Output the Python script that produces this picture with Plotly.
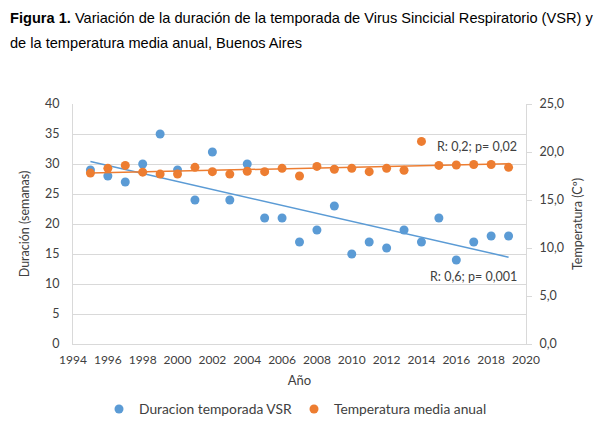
import numpy as np
import plotly.graph_objects as go

years = list(range(1995, 2020))
duracion = [29, 28, 27, 30, 35, 29, 24, 32, 24, 30, 21, 21, 17, 19, 23, 15, 17, 16, 19, 17, 21, 14, 17, 18, 18]
temperatura = [17.8, 18.3, 18.6, 17.9, 17.7, 17.7, 18.4, 17.95, 17.7, 18.0, 17.95, 18.3, 17.5, 18.5, 18.2,
               18.3, 17.95, 18.3, 18.1, 21.1, 18.6, 18.65, 18.7, 18.7, 18.4]
x_ticks = list(range(1994, 2021, 2))

BLUE = "#5B9BD5"
ORANGE = "#ED7D31"
GRID = "#D9D9D9"
FONT = "Lato"
TXT = "#404040"

x = np.array(years, dtype=float)
bd = np.polyfit(x, np.array(duracion, dtype=float), 1)
bt = np.polyfit(x, np.array(temperatura, dtype=float), 1)
xe = [years[0], years[-1]]

fig = go.Figure()
fig.add_trace(go.Scatter(x=years, y=duracion, mode="markers", name="Duracion temporada VSR",
                         marker=dict(color=BLUE, size=9), yaxis="y"))
fig.add_trace(go.Scatter(x=years, y=temperatura, mode="markers", name="Temperatura media anual",
                         marker=dict(color=ORANGE, size=9), yaxis="y2"))
fig.add_trace(go.Scatter(x=xe, y=[np.polyval(bd, v) for v in xe], mode="lines", showlegend=False,
                         line=dict(color=BLUE, width=1.5), yaxis="y", hoverinfo="skip"))
fig.add_trace(go.Scatter(x=xe, y=[np.polyval(bt, v) for v in xe], mode="lines", showlegend=False,
                         line=dict(color=ORANGE, width=1.5), yaxis="y2", hoverinfo="skip"))

fig.update_layout(
    width=600, height=426,
    margin=dict(l=73, r=74, t=104, b=82, autoexpand=False),
    paper_bgcolor="white", plot_bgcolor="white",
    separators=",.",
    font=dict(family=FONT, size=12, color=TXT),
    showlegend=True,
    legend=dict(orientation="h", x=0.49, xanchor="center", xref="container",
                y=1 - 409 / 426, yanchor="middle", yref="container",
                font=dict(family=FONT, size=13.8, color=TXT), itemwidth=30,
                entrywidth=150, entrywidthmode="pixels"),
    xaxis=dict(range=[1994, 2020], tickvals=x_ticks, showgrid=False, showline=True, automargin=False,
               linecolor=GRID, linewidth=1, ticks="", zeroline=False, ticklabelstandoff=5,
               title=dict(text="Año", standoff=9, font=dict(family=FONT, size=13, color=TXT)),
               tickfont=dict(family=FONT, size=12, color=TXT)),
    yaxis=dict(range=[0, 40], dtick=5, showgrid=True, gridcolor=GRID, gridwidth=1, automargin=False,
               showline=True, linecolor=GRID, zeroline=False, ticks="",
               ticklabelstandoff=10,
               title=dict(text="Duración (semanas)", standoff=12, font=dict(family=FONT, size=12.5, color=TXT)),
               tickfont=dict(family=FONT, size=12.5, color=TXT)),
    yaxis2=dict(range=[0, 25], dtick=5, tickformat=".1f", overlaying="y", side="right", automargin=False,
                showgrid=False, showline=True, linecolor=GRID, zeroline=False,
                ticks="outside", ticklen=5, tickcolor=GRID, ticklabelstandoff=5,
                title=dict(text="Temperatura (Cº)", standoff=10, font=dict(family=FONT, size=12.5, color=TXT)),
                tickfont=dict(family=FONT, size=12.5, color=TXT)),
)

fig.add_annotation(x=2019.6, y=20.6, xref="x", yref="y2", text="R: 0,2; p= 0,02", showarrow=False,
                   xanchor="right", yanchor="middle", font=dict(family=FONT, size=12.5, color=TXT))
fig.add_annotation(x=2019.6, y=11.3, xref="x", yref="y", text="R: 0,6; p= 0,001", showarrow=False,
                   xanchor="right", yanchor="middle", font=dict(family=FONT, size=12.5, color=TXT))

TF = "Liberation Sans"
fig.add_annotation(xref="paper", yref="paper", x=(8 - 73) / 453, y=(344 - 18) / 240,
                   xanchor="left", yanchor="middle", showarrow=False,
                   text="<b>Figura 1.</b> Variación de la duración de la temporada de Virus Sincicial Respiratorio (VSR) y",
                   font=dict(family=TF, size=14.6, color="black"))
fig.add_annotation(xref="paper", yref="paper", x=(8 - 73) / 453, y=(344 - 43) / 240,
                   xanchor="left", yanchor="middle", showarrow=False,
                   text="de la temperatura media anual, Buenos Aires",
                   font=dict(family=TF, size=14.6, color="black"))

fig.write_html("out.html", config={"displayModeBar": False},
               post_script="document.body.style.margin='0';")
